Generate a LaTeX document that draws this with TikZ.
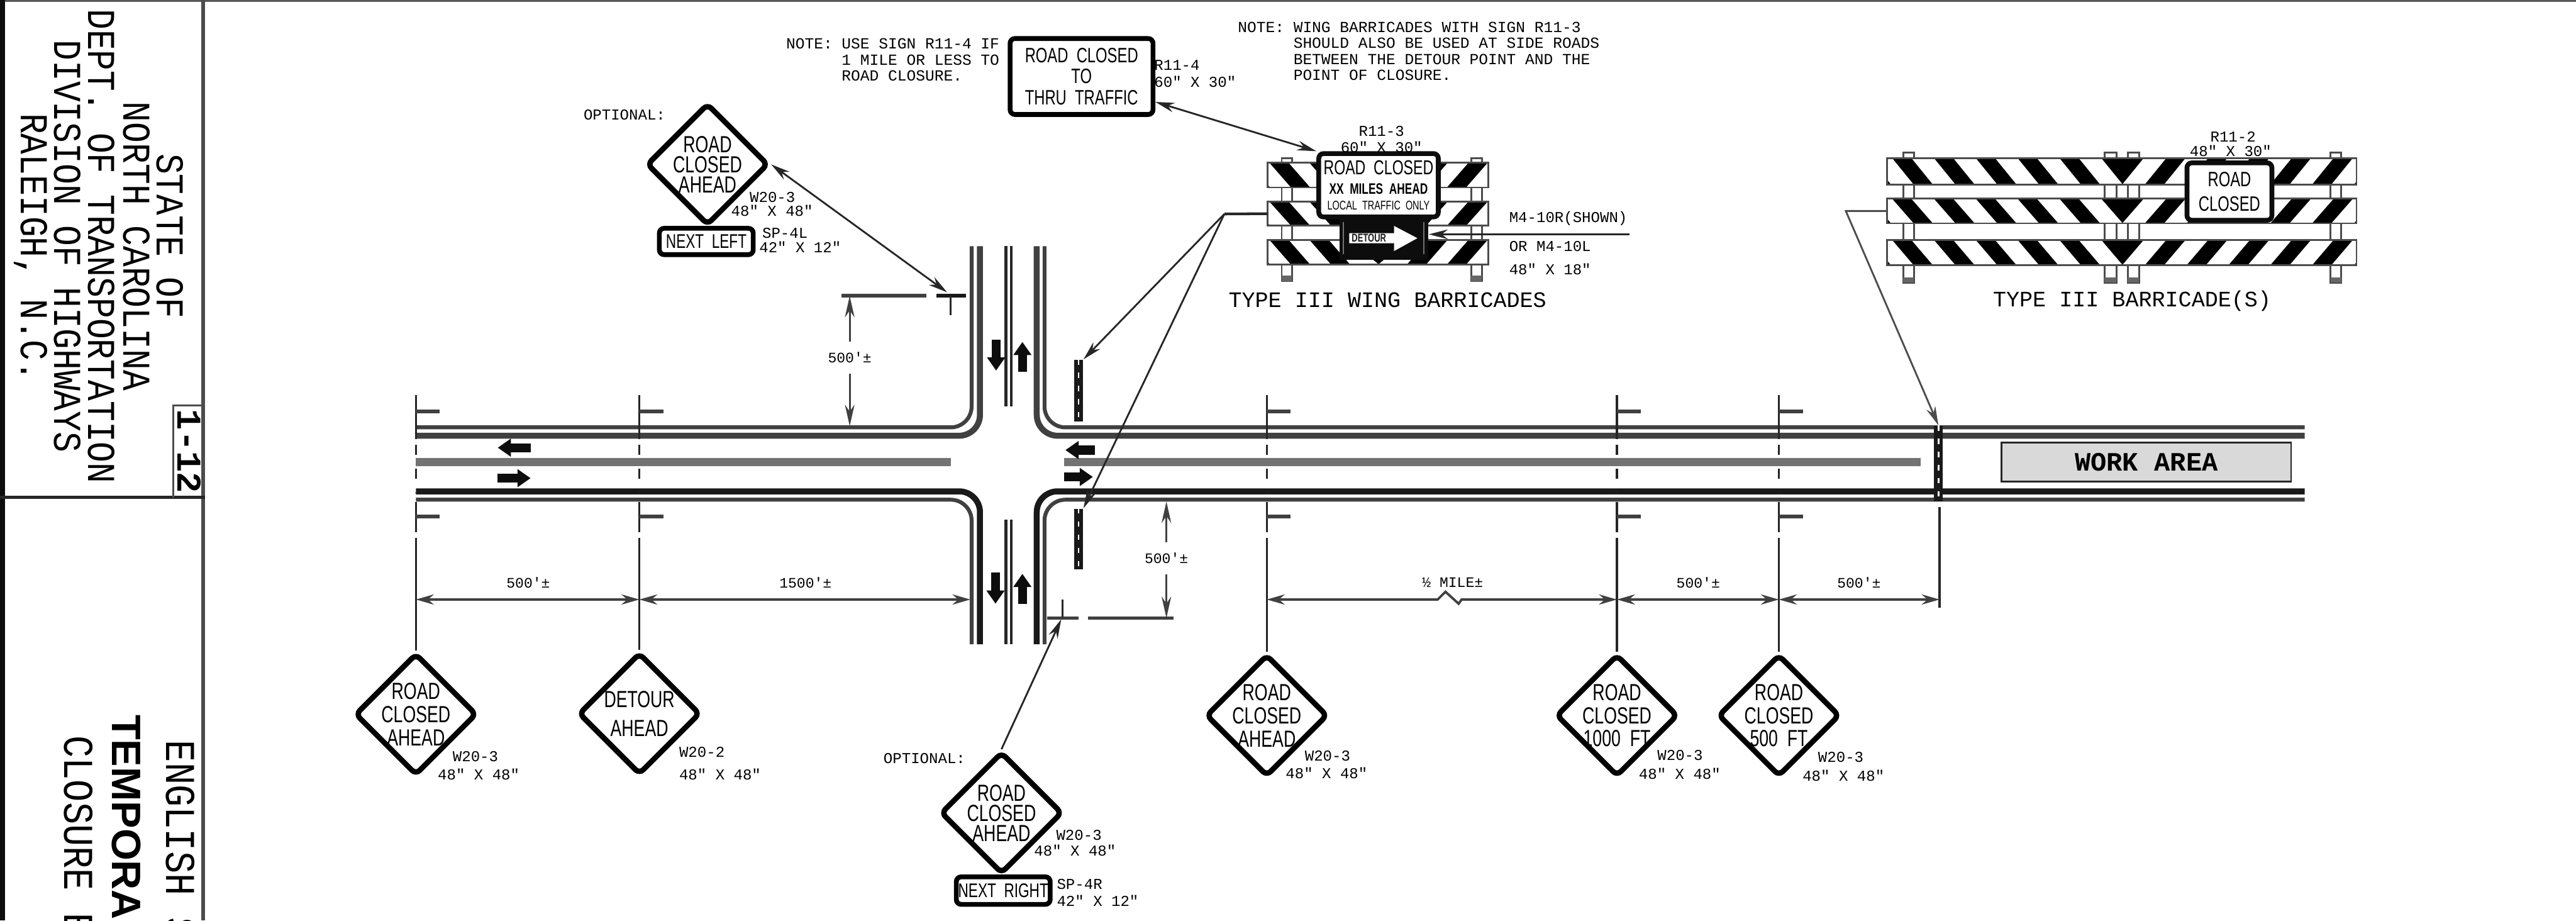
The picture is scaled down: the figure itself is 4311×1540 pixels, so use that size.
\documentclass[tikz,border=0pt]{standalone}
\usepackage{fontspec}
\setmainfont{Liberation Sans}
\setmonofont{Liberation Mono}
\newfontfamily\signfont[FakeStretch=0.72,WordSpace=2]{Liberation Sans}
\newfontfamily\cadfont[FakeStretch=0.87]{Liberation Mono}
\usetikzlibrary{arrows.meta,shapes.geometric,fit}
\newcommand{\stripebar}[8]{%
  \node[bar node, fit={(#2,#3) (#4,#5)}] (#1) {};%
  \begin{scope}%
    \clip (#1.south west) rectangle (#1.north east);%
    \fill (#6-#7,#3) -- (#6+#7,#3) -- (#6,#5) -- cycle;%
    \foreach \k in {1,...,8} {%
      \fill ({#6-#7-#8*\k},#3) -- ++(32,0) -- ({#6-#7-#8*\k+67},#5) -- ++(-32,0) -- cycle;%
      \fill ({#6+#7+#8*\k},#3) -- ++(-32,0) -- ({#6+#7+#8*\k-67},#5) -- ++(32,0) -- cycle;%
    }%
  \end{scope}%
  \draw[bar edge] (#1.south west) rectangle (#1.north east);%
}
\newcommand{\railpost}[4]{%
  \draw[bar edge, fill=white] (#1,#2) rectangle (#3,#4);%
  \fill[black!60] (#1,#4-9) rectangle (#3,#4);%
}
\newcommand{\postpair}[1]{%
  \draw[post line] (#1,661) -- (#1,735);%
  \draw[flag line] (#1,688) -- (#1+40,688);%
  \draw[post line, dash pattern=on 1.7mm off 2.3mm] (#1,744) -- (#1,825);%
  \draw[post line] (#1,840) -- (#1,890);%
  \draw[flag line] (#1,864) -- (#1+40,864);%
}
\begin{document}
\begin{tikzpicture}[x=0.01cm,y=-0.01cm,
title node/.style={font=\cadfont\fontsize{18.8}{18.8}\selectfont, rotate=-90, anchor=base, inner sep=0pt},
lower title/.style={font=\cadfont\fontsize{20.2}{20.2}\selectfont, rotate=-90, anchor=base west, inner sep=0pt},
size node/.style={font=\ttfamily\fontsize{7.2}{7.7}\selectfont, align=left, anchor=west, inner sep=0pt},
note node/.style={font=\ttfamily\fontsize{7.35}{7.6}\selectfont, align=left, anchor=north west, inner sep=0pt},
dim text/.style={font=\ttfamily\fontsize{6.9}{7.5}\selectfont, inner sep=0pt},
caption node/.style={font=\ttfamily\fontsize{10.5}{11}\selectfont, inner sep=0pt},
sign text/.style={font=\signfont\fontsize{11.1}{11}\selectfont, align=center, inner sep=0pt},
tight text/.style={font=\signfont\fontsize{11.1}{9.6}\selectfont, align=center, inner sep=0pt},
warn node/.style={diamond, draw, fill=white, line width=.9mm, rounded corners=.9mm, aspect=1, minimum size=20.4mm, inner sep=0pt, label={[sign text]center:#1}},
warn tight/.style={diamond, draw, fill=white, line width=.9mm, rounded corners=.9mm, aspect=1, minimum size=20.4mm, inner sep=0pt, label={[tight text]center:#1}},
sign node/.style={draw, fill=white, line width=.8mm, rounded corners=.8mm, align=center, inner sep=0pt, font=\signfont\fontsize{9.9}{10.1}\selectfont},
bar node/.style={fill=white, inner sep=0pt},
bar edge/.style={draw=black!70, line width=.3mm},
mark node/.style={fill=black!90, inner sep=0pt, minimum width=1.5mm},
mark dash/.style={draw=white, line width=.3mm, dash pattern=on .9mm off 1.3mm},
road edge/.style={draw=black!75, line width=1mm, rounded corners=3.5mm},
road thin/.style={road edge, line width=.65mm},
center line/.style={draw=black!55, line width=1.4mm},
center pair/.style={draw=black!85, line width=.45mm},
post line/.style={draw=black!85, line width=.35mm},
flag line/.style={draw=black!75, line width=.6mm},
dim line/.style={draw=black!75, line width=.4mm, {Stealth[length=3mm,width=1.7mm]}-{Stealth[length=3mm,width=1.7mm]}},
dim head/.style={draw=black!75, line width=.3mm, -{Stealth[length=3.6mm,width=1.6mm]}},
leader/.style={draw=black!85, line width=.3mm, -{Stealth[length=3.2mm,width=1.6mm]}},
both leader/.style={draw=black!85, line width=.3mm, {Stealth[length=3.2mm,width=1.6mm]}-{Stealth[length=3.2mm,width=1.6mm]}},
travel arrow/.style={draw=black!95, line width=1.5mm, -{Triangle[length=2.2mm,width=2.9mm]}}]%
\path[use as bounding box] (0,0) rectangle (4311,1540);%
  % Title block%
\fill[black!65] (0,0) rectangle (4311,3);%
\fill[black!95] (0,0) rectangle (8,1540);%
\draw[draw=black!70, line width=.6mm] (340,0) -- (340,1540);%
\draw[draw=black!85, line width=.6mm] (0,832) -- (343,832);%
\draw[draw=black!70, line width=.35mm] (290,832) -- (290,678) -- (340,678);%
\node[title node] (state) at (263,395) {STATE OF};%
\node[title node] (north) at (207,412) {NORTH CAROLINA};%
\node[title node] (dept) at (148,412) {DEPT. OF TRANSPORTATION};%
\node[title node] (division) at (91,412) {DIVISION OF HIGHWAYS};%
\node[title node] (raleigh) at (35,414) {RALEIGH, N.C.};%
\node[title node, font=\ttfamily\bfseries\fontsize{16.6}{17}\selectfont] (sheet) at (297,755) {1-12};%
\node[lower title] (english) at (278,1238) {ENGLISH S};%
\node[lower title, font=\bfseries\fontsize{19.5}{20}\selectfont] (temporary) at (188,1195) {TEMPORAR};%
\node[lower title] (closure) at (108,1230) {CLOSURE E};%
  % Roadway%
\draw[road thin] (696,715) -- (1626,715) -- (1626,412);%
\draw[road edge] (696,729) -- (1640,729) -- (1640,412);%
\draw[road thin] (3857,715) -- (1748,715) -- (1748,412);%
\draw[road edge] (3857,729) -- (1735,729) -- (1735,412);%
\draw[road edge, draw=black!90] (696,822) -- (1640,822) -- (1640,1078);%
\draw[road thin] (696,836) -- (1626,836) -- (1626,1078);%
\draw[road edge, draw=black!90] (3857,822) -- (1735,822) -- (1735,1078);%
\draw[road thin] (3857,836) -- (1748,836) -- (1748,1078);%
\draw[center line] (696,773) -- (1591,773);%
\draw[center line] (1781,773) -- (3214,773);%
\draw[center pair] (1683.5,412) -- (1683.5,680);%
\draw[center pair] (1692.5,412) -- (1692.5,680);%
\draw[center pair] (1683.5,869) -- (1683.5,1078);%
\draw[center pair] (1692.5,869) -- (1692.5,1078);%
  % Travel arrows%
\draw[travel arrow] (888,749) -- (833,749);%
\draw[travel arrow] (833,800) -- (888,800);%
\draw[travel arrow] (1832,753) -- (1783,753);%
\draw[travel arrow] (1781,798) -- (1829,798);%
\draw[travel arrow] (1667,568) -- (1667,620);%
\draw[travel arrow] (1711,622) -- (1711,572);%
\draw[travel arrow] (1666,958) -- (1666,1010);%
\draw[travel arrow] (1711,1010) -- (1711,960);%
  % Sign posts%
\postpair{696}%
\postpair{1070}%
\postpair{2120}%
\postpair{2706}%
\postpair{2977}%
\coordinate (stemA) at (696,900);%
\coordinate (stemB) at (1070,900);%
\coordinate (stemC) at (2120,900);%
\coordinate (stemD) at (2706,900);%
\coordinate (stemE) at (2977,900);%
\coordinate (stemF) at (3246,848);%
\coordinate (stemG) at (3246,1017);%
  % Warning signs%
\node[warn node={ROAD\\CLOSED\\AHEAD}] (roadA) at (696,1195) {};%
\node[warn node={DETOUR\\[.9mm]AHEAD}] (detour) at (1070,1194) {};%
\node[warn node={ROAD\\CLOSED\\AHEAD}] (roadB) at (2120,1197) {};%
\node[warn node={ROAD\\CLOSED\\1000 FT}] (roadC) at (2706,1197) {};%
\node[warn node={ROAD\\CLOSED\\500 FT}] (roadD) at (2977,1197) {};%
\node[warn tight={ROAD\\CLOSED\\AHEAD}] (roadUp) at (1184,275) {};%
\node[warn tight={ROAD\\CLOSED\\AHEAD}] (roadDown) at (1676,1360) {};%
\draw[post line] (stemA) -- (roadA.north);%
\draw[post line] (stemB) -- (detour.north);%
\draw[post line] (stemC) -- (roadB.north);%
\draw[post line] (stemD) -- (roadC.north);%
\draw[post line] (stemE) -- (roadD.north);%
\draw[post line] (stemF) -- (stemG);%
\node[size node] (roadAcode) at (757,1266) {W20-3};%
\node[size node] (roadAsize) at (732,1295) {48" X 48"};%
\node[size node] (detourcode) at (1136,1258) {W20-2};%
\node[size node] (detoursize) at (1136,1295) {48" X 48"};%
\node[size node] (roadBcode) at (2183,1265) {W20-3};%
\node[size node] (roadBsize) at (2151,1293) {48" X 48"};%
\node[size node] (roadCcode) at (2773,1264) {W20-3};%
\node[size node] (roadCsize) at (2742,1294) {48" X 48"};%
\node[size node] (roadDcode) at (3042,1267) {W20-3};%
\node[size node] (roadDsize) at (3016,1298) {48" X 48"};%
  % Optional signs%
\node[size node] (optUp) at (976,192) {OPTIONAL:};%
\node[sign node, minimum width=15.7mm, minimum height=4.4mm, font=\signfont\fontsize{9.4}{10}\selectfont] (nextleft) at (1182,404) {NEXT LEFT};%
\node[size node] (roadUpcode) at (1254,330) {W20-3};%
\node[size node] (roadUpsize) at (1223,353) {48" X 48"};%
\node[size node] (nextleftcode) at (1275,390) {SP-4L};%
\node[size node] (nextleftsize) at (1270,413) {42" X 12"};%
\node[size node] (optDown) at (1478,1269) {OPTIONAL:};%
\node[sign node, minimum width=15.7mm, minimum height=4.6mm, font=\signfont\fontsize{9.4}{10}\selectfont] (nextright) at (1679,1490) {NEXT RIGHT};%
\node[size node] (roadDowncode) at (1767,1397) {W20-3};%
\node[size node] (roadDownsize) at (1730,1423) {48" X 48"};%
\node[size node] (nextrightcode) at (1768,1479) {SP-4R};%
\node[size node] (nextrightsize) at (1768,1507) {42" X 12"};%
  % Cross posts%
\coordinate (crossUp) at (1585,489);%
\coordinate (crossDown) at (1776,1036);%
\draw[flag line] (1408,495) -- (1550,495);%
\draw[flag line, draw=black!90] (1567,495) -- (1617,495);%
\draw[post line] (1591,495) -- (1591,527);%
\draw[flag line] (1752,1034) -- (1805,1034);%
\draw[flag line] (1821,1034) -- (1964,1034);%
\draw[post line] (1778,1003) -- (1778,1034);%
\draw[both leader] (roadUp.east) -- (crossUp);%
\draw[leader] (roadDown.north) -- (crossDown);%
  % Dimensions%
\coordinate (dimA) at (696,1003);%
\coordinate (dimB) at (1070,1003);%
\coordinate (dimC) at (1624,1003);%
\coordinate (dimD) at (2120,1003);%
\coordinate (dimE) at (2706,1003);%
\coordinate (dimF) at (2977,1003);%
\coordinate (dimG) at (3246,1003);%
\draw[dim line] (dimA) -- (dimB);%
\draw[dim line] (dimB) -- (dimC);%
\draw[dim line] (dimD) -- (2406,1003) -- (2419,990) -- (2441,1010) -- (2446,1003) -- (dimE);%
\draw[dim line] (dimE) -- (dimF);%
\draw[dim line] (dimF) -- (dimG);%
\node[dim text] (lenA) at (884,975) {500'±};%
\node[dim text] (lenB) at (1348,975) {1500'±};%
\node[dim text] (lenC) at (2431,975) {½ MILE±};%
\node[dim text] (lenD) at (2842,975) {500'±};%
\node[dim text] (lenE) at (3111,975) {500'±};%
\node[dim text, minimum height=5.2mm] (upLen) at (1422,598) {500'±};%
\node[dim text, minimum height=5.2mm] (downLen) at (1952,934) {500'±};%
\coordinate (upTop) at (1422,495);%
\coordinate (upRoad) at (1422,713);%
\coordinate (downRoad) at (1952,839);%
\coordinate (downEnd) at (1952,1034);%
\draw[dim head] (upLen.north) -- (upTop);%
\draw[dim head] (upLen.south) -- (upRoad);%
\draw[dim head] (downLen.north) -- (downRoad);%
\draw[dim head] (downLen.south) -- (downEnd);%
  % Marks on the road%
\node[mark node, minimum height=10.3mm] (markUp) at (1805,653.5) {};%
\node[mark node, minimum height=10.2mm] (markDown) at (1805,902) {};%
\node[mark node, minimum height=12.6mm] (markRoad) at (3244,775.5) {};%
\draw[mark dash] (markUp.north) -- (markUp.south);%
\draw[mark dash] (markDown.north) -- (markDown.south);%
\draw[mark dash] (markRoad.north) -- (markRoad.south);%
\node[draw=black!85, fill=black!15, line width=.3mm, minimum width=48.4mm, minimum height=6.6mm, inner sep=0pt, font=\ttfamily\bfseries\fontsize{12.6}{13}\selectfont] (workarea) at (3592,773) {WORK AREA};%
  % Road closed to thru traffic%
\node[sign node, minimum width=23.9mm, minimum height=12.7mm] (thru) at (1810,128) {ROAD CLOSED\\TO\\THRU TRAFFIC};%
\node[size node] (thrucode) at (1931,109) {R11-4};%
\node[size node] (thrusize) at (1931,137) {60" X 30"};%
\node[note node] (noteA) at (1315,64) {NOTE:};%
\node[note node] (noteAbody) at (1408,64) {USE SIGN R11-4 IF\\1 MILE OR LESS TO\\ROAD CLOSURE.};%
\node[note node] (noteB) at (2071,36) {NOTE:};%
\node[note node] (noteBbody) at (2164,36) {WING BARRICADES WITH SIGN R11-3\\SHOULD ALSO BE USED AT SIDE ROADS\\BETWEEN THE DETOUR POINT AND THE\\POINT OF CLOSURE.};%
  % Wing barricades%
\railpost{2145}{265}{2162}{470}%
\railpost{2462}{265}{2480}{470}%
\stripebar{wingA}{2122}{273}{2490}{313}{2307}{48}{67}%
\stripebar{wingB}{2122}{338}{2490}{377}{2307}{48}{67}%
\stripebar{wingC}{2122}{402}{2490}{442}{2307}{48}{67}%
\node[sign node, draw=black!95, minimum width=20mm, minimum height=10.6mm] (wingsign) at (2307,310) {};%
\node[font=\signfont\fontsize{9.6}{10}\selectfont, inner sep=0pt] (wingsignA) at (2307,280) {ROAD CLOSED};%
\node[font=\signfont\bfseries\fontsize{7.2}{8}\selectfont, inner sep=0pt] (wingsignB) at (2307,316) {XX MILES AHEAD};%
\node[font=\signfont\fontsize{6}{7}\selectfont, inner sep=0pt] (wingsignC) at (2307,344) {LOCAL TRAFFIC ONLY};%
\node[fill=black!95, minimum width=14.8mm, minimum height=7mm, inner sep=0pt] (detourpanel) at (2316,400) {};%
\draw[draw=black!55, line width=.25mm] (2248,372) -- (2248,425);%
\draw[draw=black!55, line width=.25mm] (2383,372) -- (2383,425);%
\fill[white] (2258,390) -- (2333,390) -- (2333,378) -- (2372,398.5) -- (2333,420) -- (2333,407) -- (2258,407) -- cycle;%
\node[font=\signfont\bfseries\fontsize{5.4}{6}\selectfont, text=black!90, inner sep=0pt] (detourword) at (2291,398.5) {DETOUR};%
\node[size node, anchor=center] (wingcode) at (2312,220) {R11-3};%
\node[size node, anchor=center] (wingsize) at (2312,246) {60" X 30"};%
\node[size node] (panelcode) at (2525,366) {M4-10R(SHOWN)};%
\node[size node] (panelalt) at (2525,412) {OR M4-10L};%
\node[size node] (panelsize) at (2525,450) {48" X 18"};%
\node[caption node] (wingcaption) at (2322,502) {TYPE III WING BARRICADES};%
\coordinate (panelfree) at (2727,392);%
\coordinate (panelend) at (2391,392);%
\coordinate (wingelbow) at (2049,358);%
\draw[leader] (panelfree) -- (panelend);%
\draw[both leader] (thru.-19) -- (wingsign.north west);%
\draw[draw=black!85, line width=.45mm] (wingB.west) -- (wingelbow);%
\draw[leader] (wingelbow) -- (markUp.north east);%
\draw[leader] (wingelbow) -- (markDown.north east);%
  % Type III barricade%
\railpost{3185}{255}{3203}{473}%
\railpost{3522}{255}{3542}{473}%
\railpost{3561}{255}{3580}{473}%
\railpost{3900}{255}{3918}{473}%
\stripebar{barA}{3159}{265}{3943}{308}{3552}{35}{70}%
\stripebar{barB}{3159}{333}{3943}{373}{3552}{35}{70}%
\stripebar{barC}{3159}{402}{3943}{443}{3552}{35}{70}%
\node[sign node, draw=black!95, minimum width=14.2mm, minimum height=9.6mm] (closedsign) at (3731,320.5) {ROAD\\[.5mm]CLOSED};%
\node[size node, anchor=center] (closedcode) at (3737,229) {R11-2};%
\node[size node, anchor=center] (closedsize) at (3733,253) {48" X 30"};%
\node[caption node] (barcaption) at (3568,504) {TYPE III BARRICADE(S)};%
\coordinate (barelbow) at (3089,353);%
\draw[leader, draw=black!70] (barB.west) -- (barelbow) -- (markRoad.north);%
\end{tikzpicture}
\end{document}
